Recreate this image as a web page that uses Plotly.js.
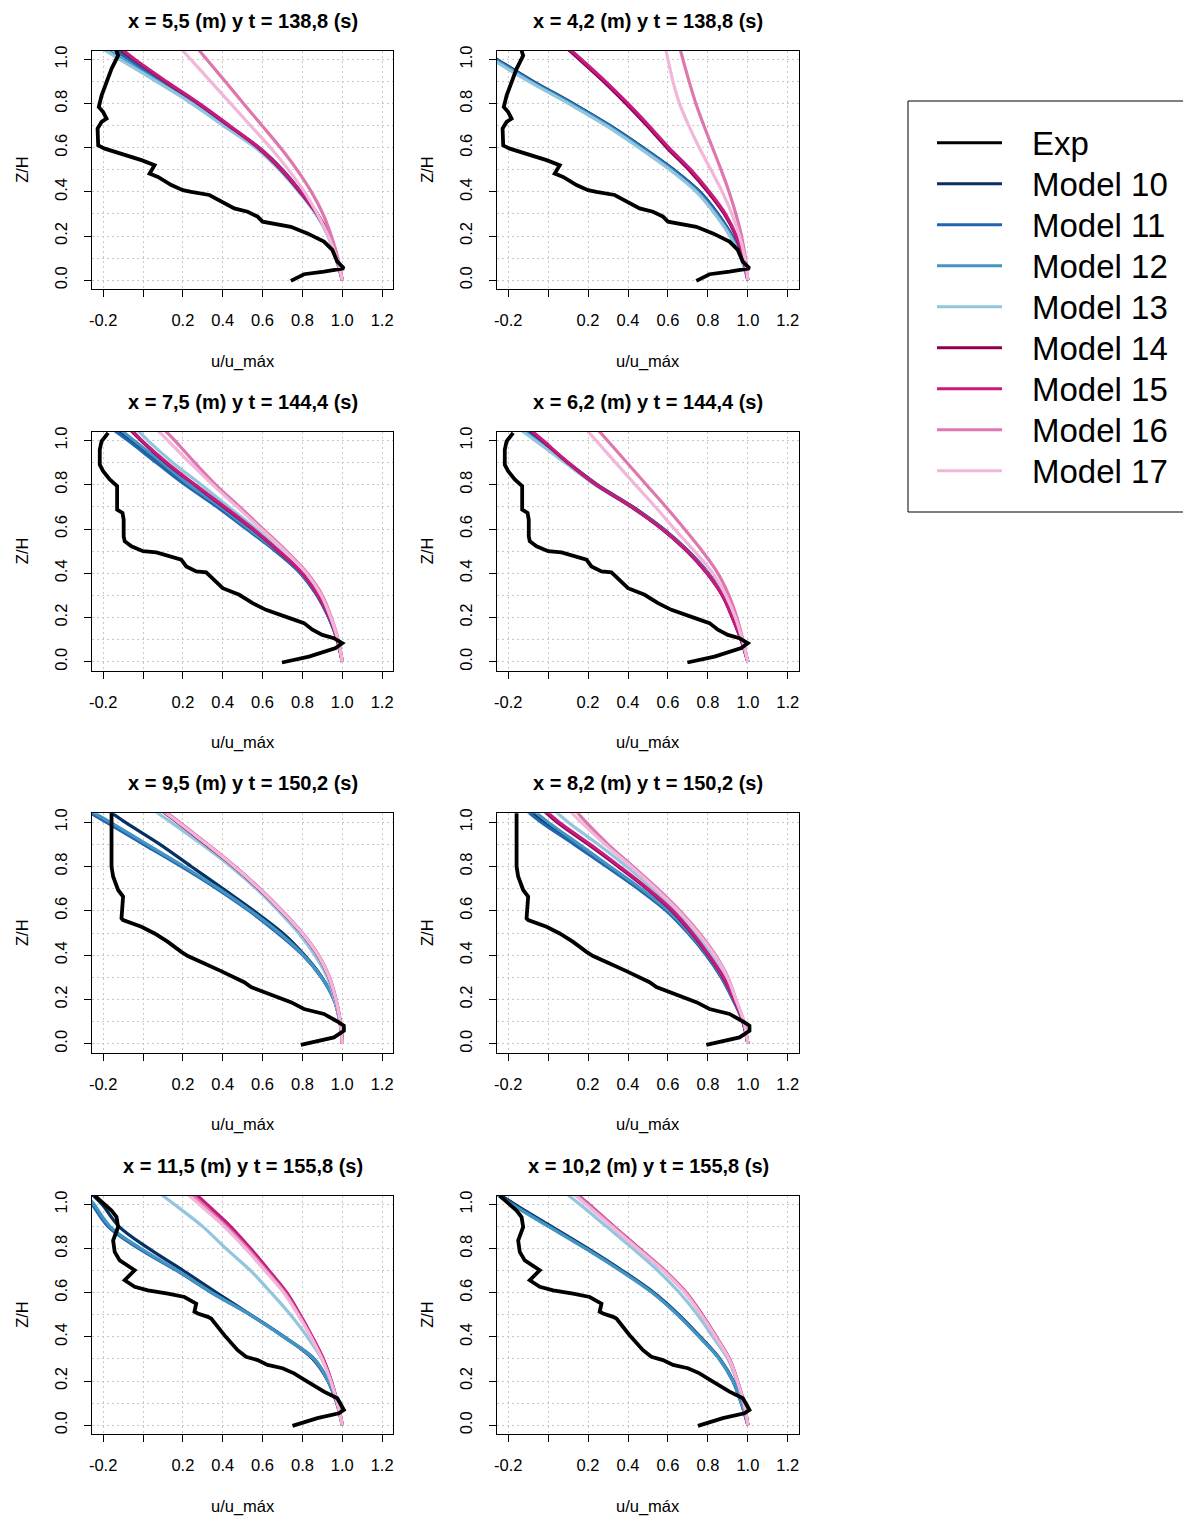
<!DOCTYPE html>
<html>
<head>
<meta charset="utf-8">
<script src="https://cdn.plot.ly/plotly-3.0.1.min.js"></script>
<style>
  html, body { margin: 0; padding: 0; background: #ffffff; }
  #chart { width: 1183px; height: 1520px; }
</style>
</head>
<body>
<div id="chart"></div>
<script>
// ---------------- DATA ----------------
const SERIES = ['Exp', 'Model 10', 'Model 11', 'Model 12', 'Model 13', 'Model 14', 'Model 15', 'Model 16', 'Model 17'];
const COLORS = ['#000000', '#053061', '#2166AC', '#4393C3', '#92C5DE', '#8E0152', '#C51B7D', '#DE77AE', '#F1B6DA'];
const TITLES = [
  'x = 5,5 (m) y t = 138,8 (s)', 'x = 4,2 (m) y t = 138,8 (s)',
  'x = 7,5 (m) y t = 144,4 (s)', 'x = 6,2 (m) y t = 144,4 (s)',
  'x = 9,5 (m) y t = 150,2 (s)', 'x = 8,2 (m) y t = 150,2 (s)',
  'x = 11,5 (m) y t = 155,8 (s)', 'x = 10,2 (m) y t = 155,8 (s)'
];
const X_TICKS = [-0.2, 0, 0.2, 0.4, 0.6, 0.8, 1.0, 1.2];
const X_TICKTEXT = ['-0.2', '', '0.2', '0.4', '0.6', '0.8', '1.0', '1.2'];
const Y_TICKS = [0, 0.2, 0.4, 0.6, 0.8, 1.0];
const Y_TICKTEXT = ['0.0', '0.2', '0.4', '0.6', '0.8', '1.0'];
const Y_MINOR = [0.1, 0.3, 0.5, 0.7, 0.9];

// Z/H levels where the model profiles were read
const Z = [0, 0.1, 0.2, 0.3, 0.4, 0.5, 0.6, 0.7, 0.8, 0.9, 1.0, 1.05];

// Experimental profiles (one per time instant / row)
const EXP1_U = [0.742,0.808,0.908,0.983,1.008,0.975,0.95,0.908,0.825,0.742,0.675,0.6,0.575,0.525,0.458,0.4,0.333,0.242,0.2,0.142,0.075,0.033,0.058,-0.008,-0.092,-0.192,-0.225,-0.228,-0.208,-0.183,-0.2,-0.222,-0.208,-0.183,-0.158,-0.125,-0.133];
const EXP1_Z = [-0.003,0.027,0.039,0.047,0.054,0.084,0.137,0.175,0.212,0.242,0.253,0.265,0.288,0.31,0.325,0.355,0.386,0.4,0.408,0.431,0.468,0.483,0.521,0.544,0.566,0.596,0.611,0.687,0.717,0.732,0.762,0.785,0.837,0.898,0.958,1.018,1.04];
const EXP2_U = [0.697,0.833,0.967,1.0,0.958,0.9,0.85,0.808,0.75,0.683,0.617,0.55,0.483,0.4,0.342,0.317,0.267,0.217,0.192,0.15,0.067,0.0,-0.058,-0.092,-0.097,-0.097,-0.103,-0.13,-0.13,-0.167,-0.2,-0.217,-0.217,-0.208,-0.175];
const EXP2_Z = [-0.003,0.024,0.062,0.084,0.107,0.122,0.145,0.175,0.193,0.213,0.235,0.265,0.303,0.333,0.386,0.404,0.409,0.431,0.462,0.474,0.495,0.5,0.522,0.545,0.567,0.643,0.673,0.688,0.794,0.824,0.861,0.891,0.959,0.997,1.035];
const EXP3_U = [0.792,0.892,0.958,0.983,1.008,1.008,0.983,0.908,0.808,0.742,0.658,0.608,0.542,0.508,0.442,0.392,0.308,0.225,0.192,0.125,0.058,-0.008,-0.1,-0.108,-0.1,-0.125,-0.15,-0.158,-0.158,-0.158];
const EXP3_Z = [-0.005,0.014,0.029,0.044,0.059,0.082,0.097,0.135,0.157,0.188,0.218,0.233,0.256,0.278,0.309,0.328,0.362,0.396,0.415,0.46,0.498,0.528,0.558,0.566,0.664,0.694,0.755,0.8,0.997,1.05];
const EXP4_U = [0.75,0.875,0.983,1.008,0.975,0.908,0.825,0.758,0.7,0.625,0.575,0.517,0.475,0.408,0.342,0.325,0.275,0.258,0.267,0.208,0.125,0.025,-0.042,-0.092,-0.042,-0.067,-0.117,-0.142,-0.15,-0.125,-0.133,-0.158,-0.208,-0.242];
const EXP4_Z = [-0.003,0.032,0.054,0.069,0.122,0.152,0.197,0.235,0.258,0.273,0.295,0.31,0.34,0.408,0.483,0.491,0.506,0.514,0.551,0.581,0.596,0.611,0.627,0.657,0.702,0.717,0.747,0.785,0.837,0.898,0.943,0.973,1.011,1.04];

// Panel 1: x = 5,5 m, t = 138,8 s
const P1_M10 = [1.0,0.97,0.933,0.875,0.792,0.7,0.583,0.425,0.27,0.1,-0.065,-0.15];
const P1_M11 = [1.0,0.97,0.932,0.873,0.79,0.697,0.578,0.42,0.265,0.095,-0.07,-0.155];
const P1_M12 = [1.0,0.968,0.93,0.87,0.785,0.69,0.57,0.41,0.252,0.078,-0.1,-0.19];
const P1_M13 = [1.0,0.967,0.928,0.867,0.782,0.685,0.565,0.403,0.245,0.068,-0.115,-0.205];
const P1_M14 = [1.0,0.972,0.933,0.872,0.788,0.693,0.578,0.43,0.278,0.112,-0.045,-0.12];
const P1_M15 = [1.0,0.973,0.935,0.875,0.792,0.697,0.582,0.435,0.283,0.118,-0.04,-0.11];
const P1_M16 = [1.0,0.978,0.945,0.903,0.845,0.773,0.69,0.598,0.505,0.413,0.32,0.274];
const P1_M17 = [1.0,0.972,0.93,0.875,0.81,0.73,0.64,0.54,0.44,0.34,0.24,0.19];

// Panel 2: x = 4,2 m, t = 138,8 s
const P2_M10 = [1.0,0.971,0.921,0.85,0.76,0.63,0.476,0.31,0.125,-0.073,-0.255,-0.345];
const P2_M11 = [1.0,0.97,0.92,0.848,0.757,0.627,0.473,0.308,0.122,-0.077,-0.26,-0.35];
const P2_M12 = [1.0,0.967,0.915,0.84,0.748,0.617,0.463,0.298,0.112,-0.087,-0.27,-0.36];
const P2_M13 = [1.0,0.965,0.91,0.835,0.742,0.61,0.455,0.29,0.103,-0.095,-0.28,-0.37];
const P2_M14 = [1.0,0.976,0.94,0.882,0.8,0.705,0.595,0.495,0.39,0.278,0.157,0.095];
const P2_M15 = [1.0,0.978,0.943,0.888,0.808,0.715,0.605,0.505,0.4,0.288,0.167,0.105];
const P2_M16 = [1.0,0.988,0.968,0.94,0.906,0.866,0.823,0.78,0.74,0.706,0.675,0.66];
const P2_M17 = [1.0,0.985,0.958,0.92,0.872,0.815,0.757,0.704,0.658,0.625,0.6,0.588];

// Panel 3: x = 7,5 m, t = 144,4 s
const P3_M10 = [1.0,0.975,0.933,0.875,0.792,0.67,0.525,0.38,0.22,0.078,-0.065,-0.14];
const P3_M11 = [1.0,0.974,0.932,0.873,0.79,0.665,0.52,0.372,0.212,0.068,-0.075,-0.15];
const P3_M12 = [1.0,0.975,0.935,0.877,0.795,0.675,0.532,0.39,0.232,0.095,-0.045,-0.115];
const P3_M13 = [1.0,0.977,0.938,0.882,0.805,0.69,0.567,0.43,0.292,0.15,0.025,-0.03];
const P3_M14 = [1.0,0.976,0.936,0.878,0.8,0.68,0.55,0.405,0.258,0.115,-0.01,-0.065];
const P3_M15 = [1.0,0.976,0.937,0.879,0.802,0.683,0.553,0.41,0.262,0.12,-0.005,-0.06];
const P3_M16 = [1.0,0.98,0.945,0.9,0.825,0.72,0.603,0.485,0.365,0.26,0.16,0.105];
const P3_M17 = [1.0,0.978,0.942,0.895,0.82,0.712,0.593,0.472,0.35,0.235,0.125,0.07];

// Panel 4: x = 6,2 m, t = 144,4 s
const P4_M10 = [1.0,0.967,0.925,0.877,0.802,0.702,0.578,0.425,0.247,0.1,-0.045,-0.12];
const P4_M11 = [1.0,0.967,0.925,0.876,0.8,0.7,0.576,0.422,0.244,0.096,-0.05,-0.125];
const P4_M12 = [1.0,0.966,0.924,0.875,0.799,0.698,0.573,0.418,0.24,0.09,-0.058,-0.133];
const P4_M13 = [1.0,0.966,0.923,0.874,0.797,0.696,0.57,0.415,0.236,0.085,-0.065,-0.14];
const P4_M14 = [1.0,0.966,0.922,0.872,0.795,0.695,0.57,0.417,0.24,0.098,-0.03,-0.095];
const P4_M15 = [1.0,0.967,0.923,0.873,0.797,0.697,0.572,0.42,0.243,0.102,-0.025,-0.09];
const P4_M16 = [1.0,0.975,0.945,0.905,0.85,0.772,0.683,0.59,0.492,0.395,0.297,0.248];
const P4_M17 = [1.0,0.972,0.938,0.89,0.825,0.733,0.633,0.537,0.437,0.338,0.24,0.19];

// Panel 5: x = 9,5 m, t = 150,2 s
const P5_M10 = [1.0,0.988,0.958,0.898,0.81,0.7,0.556,0.4,0.242,0.085,-0.09,-0.17];
const P5_M11 = [1.0,0.988,0.958,0.895,0.802,0.675,0.532,0.37,0.192,0.003,-0.185,-0.28];
const P5_M12 = [1.0,0.988,0.958,0.896,0.805,0.685,0.54,0.38,0.205,0.02,-0.165,-0.26];
const P5_M13 = [1.0,0.988,0.962,0.925,0.862,0.78,0.68,0.568,0.44,0.295,0.14,0.06];
const P5_M14 = [1.0,0.99,0.967,0.933,0.877,0.795,0.693,0.58,0.455,0.315,0.172,0.097];
const P5_M15 = [1.0,0.99,0.968,0.935,0.88,0.798,0.697,0.585,0.46,0.322,0.18,0.105];
const P5_M16 = [1.0,0.99,0.969,0.936,0.881,0.8,0.699,0.587,0.462,0.325,0.183,0.108];
const P5_M17 = [1.0,0.99,0.968,0.934,0.879,0.797,0.695,0.583,0.458,0.32,0.177,0.102];

// Panel 6: x = 8,2 m, t = 150,2 s
const P6_M10 = [1.0,0.975,0.927,0.87,0.795,0.705,0.597,0.458,0.3,0.14,-0.022,-0.09];
const P6_M11 = [1.0,0.975,0.925,0.867,0.792,0.7,0.592,0.45,0.292,0.13,-0.035,-0.105];
const P6_M12 = [1.0,0.976,0.928,0.872,0.798,0.708,0.602,0.465,0.31,0.155,0.0,-0.07];
const P6_M13 = [1.0,0.978,0.935,0.885,0.82,0.735,0.64,0.525,0.392,0.25,0.1,0.035];
const P6_M14 = [1.0,0.977,0.931,0.876,0.802,0.718,0.62,0.494,0.35,0.2,0.045,-0.02];
const P6_M15 = [1.0,0.977,0.932,0.878,0.805,0.722,0.625,0.5,0.358,0.21,0.055,-0.01];
const P6_M16 = [1.0,0.98,0.94,0.9,0.838,0.757,0.66,0.548,0.425,0.3,0.19,0.14];
const P6_M17 = [1.0,0.98,0.94,0.897,0.833,0.75,0.652,0.538,0.415,0.285,0.165,0.11];

// Panel 7: x = 11,5 m, t = 155,8 s
const P7_M10 = [1.0,0.972,0.928,0.852,0.708,0.54,0.37,0.203,0.03,-0.12,-0.205,-0.26];
const P7_M11 = [1.0,0.975,0.93,0.86,0.708,0.54,0.345,0.17,-0.02,-0.175,-0.255,-0.3];
const P7_M12 = [1.0,0.974,0.929,0.857,0.706,0.537,0.348,0.175,-0.01,-0.165,-0.245,-0.29];
const P7_M13 = [1.0,0.978,0.945,0.897,0.825,0.74,0.643,0.54,0.417,0.3,0.158,0.085];
const P7_M14 = [1.0,0.975,0.944,0.903,0.847,0.785,0.717,0.627,0.532,0.43,0.31,0.25];
const P7_M15 = [1.0,0.975,0.945,0.905,0.85,0.789,0.722,0.633,0.54,0.44,0.322,0.262];
const P7_M16 = [1.0,0.975,0.943,0.9,0.845,0.782,0.712,0.62,0.525,0.42,0.3,0.24];
const P7_M17 = [1.0,0.975,0.942,0.898,0.842,0.778,0.706,0.612,0.515,0.408,0.283,0.22];

// Panel 8: x = 10,2 m, t = 155,8 s
const P8_M10 = [1.0,0.968,0.927,0.86,0.762,0.655,0.53,0.372,0.2,0.018,-0.165,-0.25];
const P8_M11 = [1.0,0.967,0.925,0.858,0.758,0.65,0.525,0.365,0.192,0.008,-0.176,-0.26];
const P8_M12 = [1.0,0.967,0.925,0.857,0.757,0.648,0.522,0.362,0.188,0.003,-0.18,-0.265];
const P8_M13 = [1.0,0.978,0.945,0.9,0.825,0.748,0.658,0.55,0.425,0.293,0.16,0.09];
const P8_M14 = [1.0,0.98,0.947,0.906,0.84,0.769,0.688,0.58,0.452,0.323,0.197,0.132];
const P8_M15 = [1.0,0.98,0.948,0.908,0.842,0.772,0.692,0.585,0.458,0.33,0.205,0.14];
const P8_M16 = [1.0,0.98,0.948,0.907,0.841,0.77,0.69,0.583,0.455,0.327,0.2,0.135];
const P8_M17 = [1.0,0.98,0.947,0.905,0.838,0.766,0.685,0.577,0.448,0.318,0.19,0.125];

// ---------------- BUILD ----------------
const EXP_ROWS = [[EXP1_U, EXP1_Z], [EXP2_U, EXP2_Z], [EXP3_U, EXP3_Z], [EXP4_U, EXP4_Z]];
const MODELS = [
  [P1_M10, P1_M11, P1_M12, P1_M13, P1_M14, P1_M15, P1_M16, P1_M17],
  [P2_M10, P2_M11, P2_M12, P2_M13, P2_M14, P2_M15, P2_M16, P2_M17],
  [P3_M10, P3_M11, P3_M12, P3_M13, P3_M14, P3_M15, P3_M16, P3_M17],
  [P4_M10, P4_M11, P4_M12, P4_M13, P4_M14, P4_M15, P4_M16, P4_M17],
  [P5_M10, P5_M11, P5_M12, P5_M13, P5_M14, P5_M15, P5_M16, P5_M17],
  [P6_M10, P6_M11, P6_M12, P6_M13, P6_M14, P6_M15, P6_M16, P6_M17],
  [P7_M10, P7_M11, P7_M12, P7_M13, P7_M14, P7_M15, P7_M16, P7_M17],
  [P8_M10, P8_M11, P8_M12, P8_M13, P8_M14, P8_M15, P8_M16, P8_M17]
];

const W = 1183, H = 1520;
const FONT = 'Liberation Sans, Arial, Helvetica, sans-serif';
const COL_PX = [[92, 393.3], [497, 799]];
const ROW_PX = [[50.7, 289], [431.7, 670.7], [813.3, 1052.7], [1195.7, 1434]];
const px2x = p => p / W;
const px2y = p => 1 - p / H;

const traces = [];
const layout = {
  width: W, height: H,
  margin: {l: 0, r: 0, t: 0, b: 0},
  paper_bgcolor: '#ffffff', plot_bgcolor: '#ffffff',
  showlegend: false,
  font: {family: FONT, size: 16.5, color: '#000000'},
  annotations: [], shapes: []
};

for (let i = 0; i < 8; i++) {
  const col = i % 2, row = Math.floor(i / 2);
  const sfx = i === 0 ? '' : String(i + 1);
  const xa = 'x' + sfx, ya = 'y' + sfx;

  // model profiles
  MODELS[i].forEach((u, m) => {
    traces.push({
      type: 'scatter', mode: 'lines', x: u, y: Z, xaxis: xa, yaxis: ya,
      name: SERIES[m + 1],
      line: {color: COLORS[m + 1], width: 3.2, shape: 'spline', smoothing: 1},
      hoverinfo: 'skip'
    });
  });
  // experimental profile
  const ex = EXP_ROWS[row];
  traces.push({
    type: 'scatter', mode: 'lines', x: ex[0], y: ex[1], xaxis: xa, yaxis: ya,
    name: SERIES[0], line: {color: COLORS[0], width: 3.8}, hoverinfo: 'skip'
  });

  const xd = [px2x(COL_PX[col][0]), px2x(COL_PX[col][1])];
  const yd = [px2y(ROW_PX[row][1]), px2y(ROW_PX[row][0])];

  layout['xaxis' + sfx] = {
    domain: xd, anchor: ya, range: [-0.256, 1.256],
    tickmode: 'array', tickvals: X_TICKS, ticktext: X_TICKTEXT,
    ticks: 'outside', ticklen: 7, tickwidth: 1, tickcolor: '#000',
    ticklabelstandoff: 9,
    showline: true, mirror: true, linecolor: '#000', linewidth: 1,
    showgrid: true, gridcolor: '#c8c8c8', gridwidth: 1, griddash: '2px,3px',
    zeroline: false, fixedrange: true,
    tickfont: {family: FONT, size: 16.5, color: '#000'}
  };
  layout['yaxis' + sfx] = {
    domain: yd, anchor: xa, range: [-0.04, 1.04],
    tickmode: 'array', tickvals: Y_TICKS, ticktext: Y_TICKTEXT, tickangle: -90,
    ticks: 'outside', ticklen: 7, tickwidth: 1, tickcolor: '#000',
    ticklabelstandoff: 10,
    showline: true, mirror: true, linecolor: '#000', linewidth: 1,
    showgrid: true, gridcolor: '#c8c8c8', gridwidth: 1, griddash: '2px,3px',
    minor: {tickmode: 'array', tickvals: Y_MINOR, ticks: '', showgrid: true,
            gridcolor: '#c8c8c8', gridwidth: 1, griddash: '2px,3px'},
    zeroline: false, fixedrange: true,
    tickfont: {family: FONT, size: 16.5, color: '#000'}
  };

  const cx = (COL_PX[col][0] + COL_PX[col][1]) / 2;
  const cy = (ROW_PX[row][0] + ROW_PX[row][1]) / 2;
  // panel title
  layout.annotations.push({
    xref: 'paper', yref: 'paper', x: px2x(cx), y: px2y(ROW_PX[row][0] - 30),
    xanchor: 'center', yanchor: 'middle', showarrow: false,
    text: '<b>' + TITLES[i] + '</b>', font: {family: FONT, size: 20, color: '#000'}
  });
  // x axis title
  layout.annotations.push({
    xref: 'paper', yref: 'paper', x: px2x(cx), y: px2y(ROW_PX[row][1] + 72),
    xanchor: 'center', yanchor: 'middle', showarrow: false,
    text: 'u/u_máx', font: {family: FONT, size: 16.5, color: '#000'}
  });
  // y axis title
  layout.annotations.push({
    xref: 'paper', yref: 'paper', x: px2x(COL_PX[col][0] - 70), y: px2y(cy),
    xanchor: 'center', yanchor: 'middle', showarrow: false, textangle: -90,
    text: 'Z/H', font: {family: FONT, size: 16.5, color: '#000'}
  });
}

// ---------------- LEGEND (drawn box) ----------------
layout.shapes.push({
  type: 'rect', xref: 'paper', yref: 'paper',
  x0: px2x(908), x1: px2x(1190), y0: px2y(512), y1: px2y(101),
  line: {color: '#000', width: 1}, fillcolor: 'rgba(0,0,0,0)'
});
SERIES.forEach((name, k) => {
  const yy = 142.7 + k * 41;
  layout.shapes.push({
    type: 'line', xref: 'paper', yref: 'paper',
    x0: px2x(937), x1: px2x(1002), y0: px2y(yy), y1: px2y(yy),
    line: {color: COLORS[k], width: 3}
  });
  layout.annotations.push({
    xref: 'paper', yref: 'paper', x: px2x(1030), y: px2y(yy + 1),
    xanchor: 'left', yanchor: 'middle', showarrow: false,
    text: name, font: {family: FONT, size: 33, color: '#000'}
  });
});

Plotly.newPlot('chart', traces, layout, {staticPlot: true, displayModeBar: false});
</script>
</body>
</html>
